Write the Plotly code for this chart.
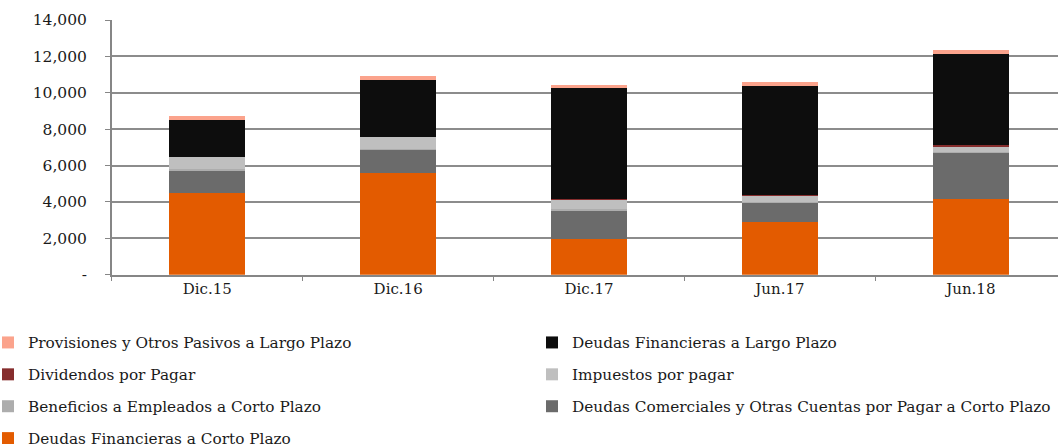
import plotly.graph_objects as go

# periods on the x axis
periodos = ['Dic.15', 'Dic.16', 'Dic.17', 'Jun.17', 'Jun.18']

# pasivos, bottom of the stack first
deudas_fin_cp = [4470, 5590, 1960, 2910, 4140]
deudas_comerciales = [1245, 1265, 1595, 1045, 2560]
beneficios_empleados = [70, 50, 50, 50, 40]
impuestos = [700, 650, 540, 375, 290]
dividendos = [0, 0, 20, 20, 90]
deudas_fin_lp = [2035, 3165, 6105, 5990, 5030]
provisiones = [200, 200, 165, 185, 190]

y_ticks = [0, 2000, 4000, 6000, 8000, 10000, 12000, 14000]
y_ticktext = ['-', '2,000', '4,000', '6,000', '8,000', '10,000', '12,000', '14,000']

W, H = 1058, 444
FONT = 'DejaVu Serif'

# name, values, colour, legend column, row in that column
series = [
    ('Deudas Financieras a Corto Plazo', deudas_fin_cp, '#E35B00', 'legend', 4),
    ('Deudas Comerciales y Otras Cuentas por Pagar a Corto Plazo', deudas_comerciales, '#6B6B6B', 'legend2', 3),
    ('Beneficios a Empleados a Corto Plazo', beneficios_empleados, '#ADADAD', 'legend', 3),
    ('Impuestos por pagar', impuestos, '#BFBFBF', 'legend2', 2),
    ('Dividendos por Pagar', dividendos, '#862D2D', 'legend', 2),
    ('Deudas Financieras a Largo Plazo', deudas_fin_lp, '#0D0D0D', 'legend2', 1),
    ('Provisiones y Otros Pasivos a Largo Plazo', provisiones, '#FBA38C', 'legend', 1),
]

fig = go.Figure()
for i, (nombre, vals, color, leg, fila) in enumerate(series):
    fig.add_trace(go.Bar(x=periodos, y=vals, name=nombre, marker_color=color,
                         marker_line_width=0, legend=leg, legendgroup='g%d' % i,
                         legendrank=fila))

# plot area in pixels (the original chart is cropped on the right)
x0_px, y_top_px, y_bot_px = 111.8, 20, 274.7
cat_px = 190.9
x_max = -0.5 + (W - x0_px) / cat_px


def legend_col(left_px, top_px):
    return dict(orientation='v', x=left_px / W, xanchor='left', y=1 - top_px / H, yanchor='top',
                traceorder='grouped', tracegroupgap=9,
                font=dict(family=FONT, size=15.3, color='#1a1a1a'), bgcolor='rgba(0,0,0,0)',
                itemclick=False)


fig.update_layout(
    width=W, height=H,
    barmode='stack', bargap=0.6,
    plot_bgcolor='white', paper_bgcolor='white',
    margin=dict(l=0, r=0, t=0, b=0, autoexpand=False),
    font=dict(family=FONT, size=15, color='#1a1a1a'),
    xaxis=dict(domain=[x0_px / W, 1], range=[-0.5, x_max], showgrid=False,
               showline=True, linecolor='#868686', linewidth=1.5,
               ticks='outside', tickson='boundaries', ticklen=5, tickcolor='#868686',
               tickfont=dict(family=FONT, size=15)),
    yaxis=dict(domain=[1 - y_bot_px / H, 1 - y_top_px / H], range=[0, 14000],
               tickvals=y_ticks, ticktext=y_ticktext,
               showgrid=True, gridcolor='#8C8C8C', gridwidth=1.5,
               showline=True, linecolor='#868686', linewidth=1.5,
               ticks='outside', ticklen=5, tickcolor='#868686',
               ticklabelstandoff=15, tickfont=dict(family=FONT, size=15.5)),
    legend=legend_col(-12, 326),
    legend2=legend_col(532, 326),
)

fig.write_html("out.html", config={'displayModeBar': False},
               post_script="document.body.style.margin='0';")
